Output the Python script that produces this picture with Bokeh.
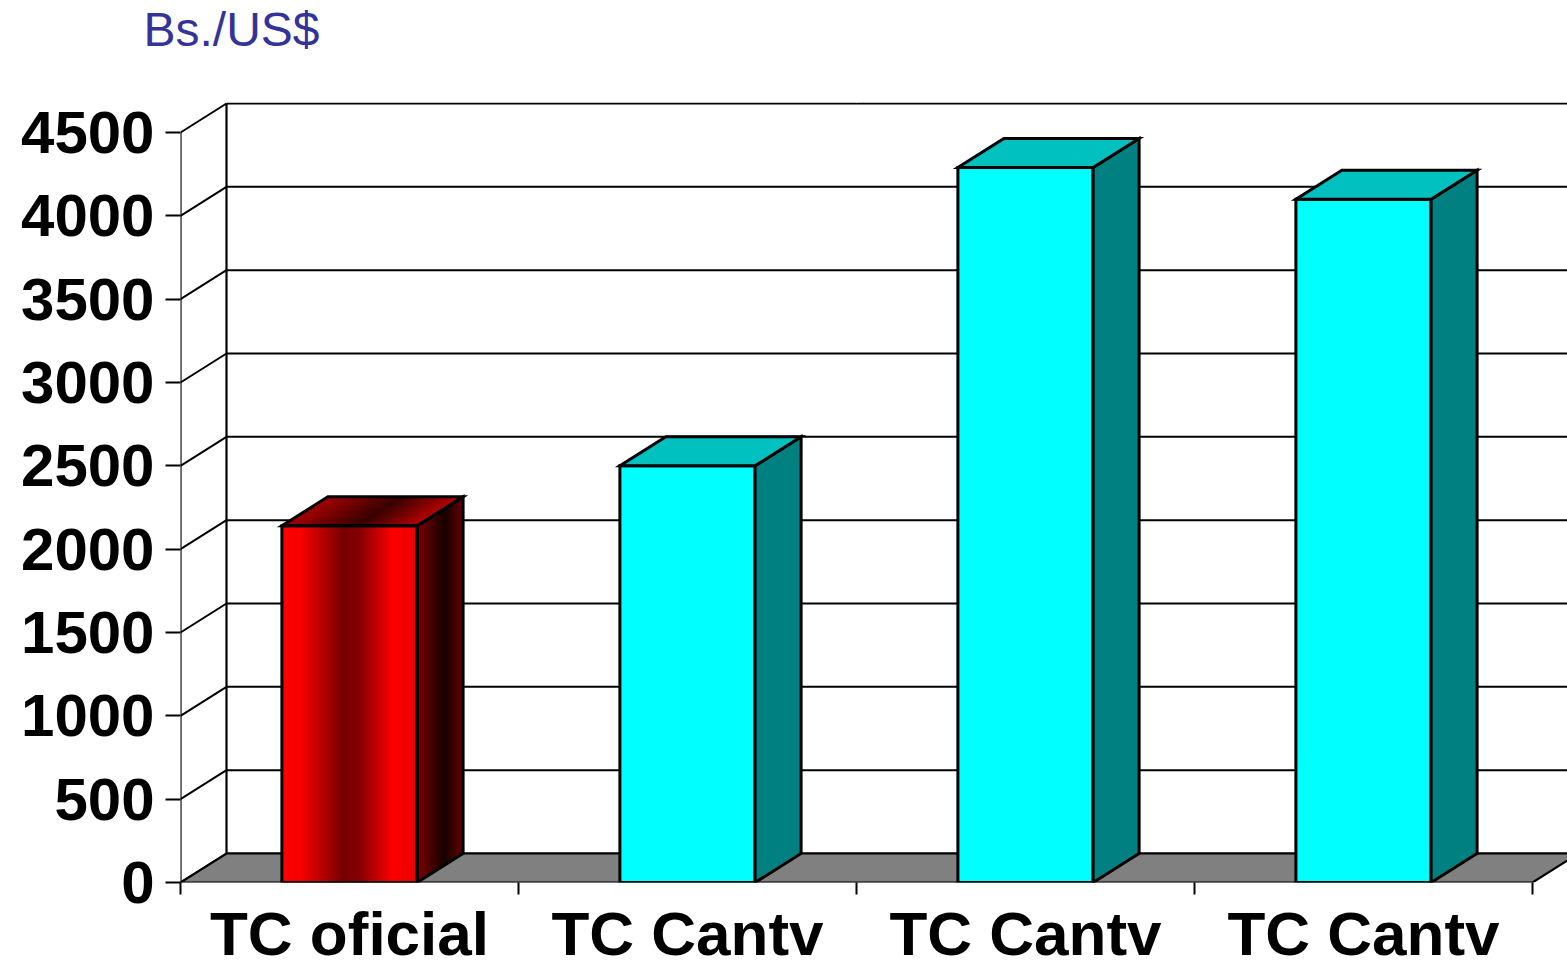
import numpy as np
from bokeh.plotting import figure
from bokeh.models import FixedTicker, Range1d, LinearAxis
from bokeh.embed import file_html
from bokeh.resources import INLINE

# ---------------- data ----------------
categories = ["TC oficial", "TC Cantv", "TC Cantv", "TC Cantv"]
values = [2140, 2500, 4290, 4100]
bar_styles = ["red", "cyan", "cyan", "cyan"]
y_ticks = [0, 500, 1000, 1500, 2000, 2500, 3000, 3500, 4000, 4500]
unit_label = "Bs./US$"

# ---------------- geometry (px -> data) ----------------
PX_PER_CAT = 338.0
UNITS_PER_PX = 6.0            # 4500 units over 750 px
FRAME_TOP = 102
FRAME_W, FRAME_H = 1387, 882 - FRAME_TOP
DX = 46.0 / PX_PER_CAT        # depth offset, x
DY = 29.0 * UNITS_PER_PX      # depth offset, y
BAR_W = 0.40
Y_MAX = y_ticks[-1]
N_CAT = len(categories)

p = figure(frame_width=FRAME_W, frame_height=FRAME_H,
           x_range=Range1d(0, FRAME_W / PX_PER_CAT),
           y_range=Range1d(0, FRAME_H * UNITS_PER_PX),
           output_backend="svg", toolbar_location=None,
           min_border_left=180, min_border_top=FRAME_TOP,
           min_border_right=0, min_border_bottom=0)
p.outline_line_color = None
p.grid.visible = False
p.background_fill_color = "white"
p.border_fill_color = "white"

# y axis
ya = p.left[0]
ya.ticker = FixedTicker(ticks=y_ticks)
ya.axis_line_color = None
ya.major_tick_out = 15
ya.major_tick_in = 0
ya.major_tick_line_width = 2
ya.minor_tick_line_color = None
ya.major_label_standoff = 11
ya.major_label_text_font = "Liberation Sans"
ya.major_label_text_font_style = "bold"
ya.major_label_text_font_size = "60px"
ya.major_label_text_color = "black"

# x axis: labels at category centres, tick marks at boundaries
centers = [i + 0.5 for i in range(N_CAT)]
xa = p.below[0]
xa.ticker = FixedTicker(ticks=centers, minor_ticks=list(range(N_CAT + 1)))
xa.major_label_overrides = {c: lab for c, lab in zip(centers, categories)}
xa.axis_line_color = None
xa.major_tick_line_color = None
xa.minor_tick_out = 12
xa.minor_tick_in = 0
xa.minor_tick_line_width = 2
xa.minor_tick_line_color = "black"
xa.major_label_standoff = 4
xa.major_label_text_font = "Liberation Sans"
xa.major_label_text_font_style = "bold"
xa.major_label_text_font_size = "62px"
xa.major_label_text_color = "black"

# blank spacer axis above the frame (white tick on white), lifts the unit label
spacer = LinearAxis(ticker=FixedTicker(ticks=[2.0], minor_ticks=[]),
                    axis_line_color=None,
                    major_tick_line_color="white", minor_tick_line_color=None,
                    major_tick_out=47, major_tick_in=0, minor_tick_out=0,
                    major_label_standoff=0, major_label_text_font_size="1px",
                    major_label_text_color="white",
                    major_label_overrides={2.0: ""})
p.add_layout(spacer, "above")

# unit label (title)
p.title.text = unit_label
p.title.text_font = "Liberation Sans"
p.title.text_font_style = "normal"
p.title.text_font_size = "48px"
p.title.text_color = "#333399"
p.title.align = "left"
p.title.standoff = 0
p.title.offset = -37

# ---------------- walls ----------------
XEND = 20
p.segment(x0=[DX] * len(y_ticks), y0=[t + DY for t in y_ticks],
          x1=[XEND] * len(y_ticks), y1=[t + DY for t in y_ticks],
          line_color="black", line_width=2)
p.segment(x0=[0] * len(y_ticks), y0=y_ticks,
          x1=[DX] * len(y_ticks), y1=[t + DY for t in y_ticks],
          line_color="black", line_width=2)
p.segment(x0=[0, DX], y0=[0, DY], x1=[0, DX], y1=[Y_MAX, Y_MAX + DY],
          line_color="black", line_width=2.2)
p.patch(x=[0, N_CAT, N_CAT + DX, DX], y=[0, 0, DY, DY],
        fill_color="#808080", line_color="black", line_width=2.2,
        line_join="miter")


def interp(stops, t):
    ts = [s[0] for s in stops]
    rgb = [np.interp(t, ts, [s[1][k] for s in stops]) for k in range(3)]
    return "#%02x%02x%02x" % tuple(int(round(c)) for c in rgb)


FRONT_STOPS = [(0.0, (255, 0, 0)), (0.15, (245, 0, 0)), (0.45, (120, 0, 0)),
               (0.58, (135, 0, 0)), (0.82, (252, 0, 0)), (1.0, (235, 0, 0))]
SIDE_STOPS = [(0.0, (125, 0, 0)), (0.6, (22, 0, 0)), (1.0, (105, 0, 0))]
TOP_STOPS = [(0.0, (165, 0, 0)), (0.55, (55, 0, 0)), (1.0, (185, 0, 0))]
NS = 48
OV = 0.004  # overlap between strips to hide seams

for i, (v, style) in enumerate(zip(values, bar_styles)):
    L = centers[i] - BAR_W / 2
    R = centers[i] + BAR_W / 2
    front_x = [L, R, R, L]
    front_y = [0, 0, v, v]
    side_x = [R, R + DX, R + DX, R]
    side_y = [0, DY, v + DY, v]
    top_x = [L, R, R + DX, L + DX]
    top_y = [v, v, v + DY, v + DY]
    if style == "red":
        ts = np.linspace(0, 1, NS + 1)
        mids = (ts[:-1] + ts[1:]) / 2
        ends = np.minimum(ts[1:] + OV / BAR_W, 1.0)
        cols = [interp(FRONT_STOPS, m) for m in mids]
        p.quad(left=[L + t * BAR_W for t in ts[:-1]],
               right=[L + e * BAR_W for e in ends],
               bottom=0, top=v, fill_color=cols, line_color=None)
        ends_s = np.minimum(ts[1:] + 0.03, 1.0)
        cols = [interp(SIDE_STOPS, m) for m in mids]
        xs = [[R + a * DX, R + b * DX, R + b * DX, R + a * DX]
              for a, b in zip(ts[:-1], ends_s)]
        ys = [[a * DY, b * DY, v + b * DY, v + a * DY]
              for a, b in zip(ts[:-1], ends_s)]
        p.patches(xs, ys, fill_color=cols, line_color=None)
        cols = [interp(TOP_STOPS, m) for m in mids]
        xs = [[L + a * BAR_W, L + b * BAR_W, L + b * BAR_W + DX, L + a * BAR_W + DX]
              for a, b in zip(ts[:-1], ends)]
        ys = [[v, v, v + DY, v + DY] for _ in mids]
        p.patches(xs, ys, fill_color=cols, line_color=None)
        p.patches([front_x, side_x, top_x], [front_y, side_y, top_y],
                  fill_color=None, line_color="black", line_width=3,
                  line_join="miter")
    else:
        p.patches([front_x, side_x, top_x], [front_y, side_y, top_y],
                  fill_color=["#00ffff", "#008080", "#00c0c0"],
                  line_color="black", line_width=3, line_join="miter")

open("out.html", "w").write(file_html(p, INLINE))
